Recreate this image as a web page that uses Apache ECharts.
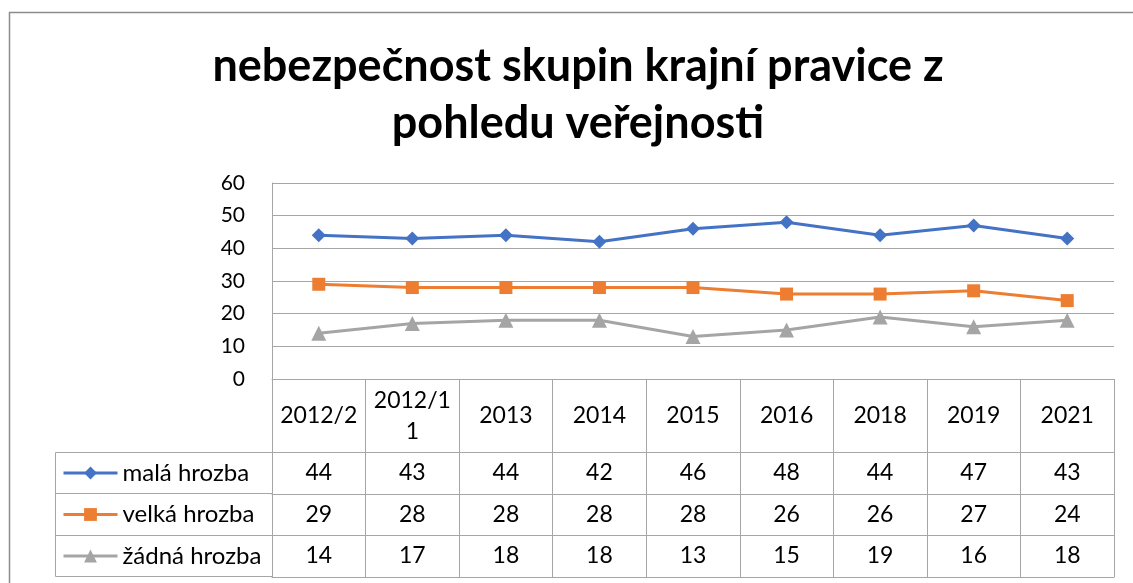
<!DOCTYPE html>
<html>
<head>
<meta charset="utf-8">
<script src="https://cdn.jsdelivr.net/npm/echarts@6/dist/echarts.min.js"></script>
<style>
html,body{margin:0;padding:0;background:#fff;}
#chart{width:1133px;height:583px;}
</style>
</head>
<body>
<div id="chart"></div>
<script>
// data
var titleLines = ['nebezpečnost skupin krajní pravice z', 'pohledu veřejnosti'];
var years = ['2012/2', '2012/11', '2013', '2014', '2015', '2016', '2018', '2019', '2021'];
var seriesNames = ['malá hrozba', 'velká hrozba', 'žádná hrozba'];
var mala = [44, 43, 44, 42, 46, 48, 44, 47, 43];
var velka = [29, 28, 28, 28, 28, 26, 26, 27, 24];
var zadna = [14, 17, 18, 18, 13, 15, 19, 16, 18];
var yTicks = [0, 10, 20, 30, 40, 50, 60];

var font = 'Lato';
var gridCol = '#a6a6a6';
var colors = ['#4472C4', '#ED7D31', '#A5A5A5'];
var symbols = ['diamond', 'rect', 'triangle'];
var symSizes = [14, 13, 15];

var chart = echarts.init(document.getElementById('chart'), null, {renderer: 'canvas'});

// one extra x axis per table row, pushed down with offset
function rowAxis(vals, offset, tickLen) {
    return {
        type: 'category',
        gridIndex: 0,
        position: 'bottom',
        offset: offset,
        data: vals.map(String),
        axisLine: {show: true, lineStyle: {color: gridCol, width: 1}},
        axisTick: {show: true, interval: 0, length: tickLen, lineStyle: {color: gridCol, width: 1}},
        axisLabel: {show: true, interval: 0, margin: tickLen / 2, verticalAlign: 'middle',
            fontFamily: font, fontSize: 23, color: '#000'},
        splitLine: {show: false}
    };
}

var data3 = [mala, velka, zadna];

var option = {
    animation: false,
    backgroundColor: '#fff',
    title: {
        text: titleLines.join('\n'),
        left: 578,
        textAlign: 'center',
        top: 38,
        padding: 0,
        textStyle: {fontFamily: font, fontSize: 45, fontWeight: 'bold', color: '#000', lineHeight: 57}
    },
    grid: {left: 272, right: 19, top: 183, bottom: 204, containLabel: false},
    legend: {
        orient: 'vertical',
        left: 57,
        top: 456,
        itemWidth: 54,
        itemHeight: 16,
        itemGap: 17.5,
        lineStyle: {width: 3},
        textStyle: {fontFamily: font, fontSize: 24, color: '#000', lineHeight: 24},
        data: seriesNames
    },
    xAxis: [
        {
            type: 'category',
            data: years,
            boundaryGap: true,
            axisLine: {show: true, lineStyle: {color: gridCol, width: 1}},
            axisTick: {show: true, interval: 0, length: 73, lineStyle: {color: gridCol, width: 1}},
            axisLabel: {
                interval: 0, margin: 37, verticalAlign: 'middle', lineHeight: 31,
                fontFamily: font, fontSize: 23, color: '#000',
                formatter: function (v) { return v.length > 6 ? v.slice(0, 6) + '\n' + v.slice(6) : v; }
            }
        },
        rowAxis(mala, 73, 42),
        rowAxis(velka, 115, 41),
        rowAxis(zadna, 156, 42),
        {
            type: 'category',
            position: 'bottom',
            offset: 198,
            data: years,
            axisLine: {show: true, lineStyle: {color: gridCol, width: 1}},
            axisTick: {show: false},
            axisLabel: {show: false}
        }
    ],
    yAxis: {
        type: 'value',
        min: 0,
        max: 60,
        interval: 10,
        axisLine: {show: true, lineStyle: {color: gridCol, width: 1}},
        axisTick: {show: false},
        axisLabel: {margin: 27, fontFamily: font, fontSize: 21, color: '#000',
            formatter: function (v) { return yTicks.indexOf(v) >= 0 ? String(v) : ''; }},
        splitLine: {show: true, lineStyle: {color: gridCol, width: 1}}
    },
    series: seriesNames.map(function (name, i) {
        return {
            name: name,
            type: 'line',
            xAxisIndex: 0,
            data: data3[i],
            symbol: symbols[i],
            symbolSize: symSizes[i],
            showAllSymbol: true,
            lineStyle: {color: colors[i], width: 3},
            itemStyle: {color: colors[i]},
            emphasis: {disabled: true}
        };
    }),
    graphic: [
        // chart area frame (top and left edge)
        {type: 'polyline', silent: true, shape: {points: [[9.5, 583], [9.5, 12.5], [1133, 12.5]]},
            style: {stroke: '#8c8c8c', lineWidth: 1.5, fill: null}},
        // legend cells of the data table
        {type: 'polyline', silent: true, shape: {points: [[272, 452.5], [55.5, 452.5], [55.5, 576.5], [272, 576.5]]},
            style: {stroke: gridCol, lineWidth: 1, fill: null}},
        {type: 'line', silent: true, shape: {x1: 55.5, y1: 493.5, x2: 272, y2: 493.5},
            style: {stroke: gridCol, lineWidth: 1}},
        {type: 'line', silent: true, shape: {x1: 55.5, y1: 535.5, x2: 272, y2: 535.5},
            style: {stroke: gridCol, lineWidth: 1}}
    ]
};

chart.setOption(option);
</script>
</body>
</html>
